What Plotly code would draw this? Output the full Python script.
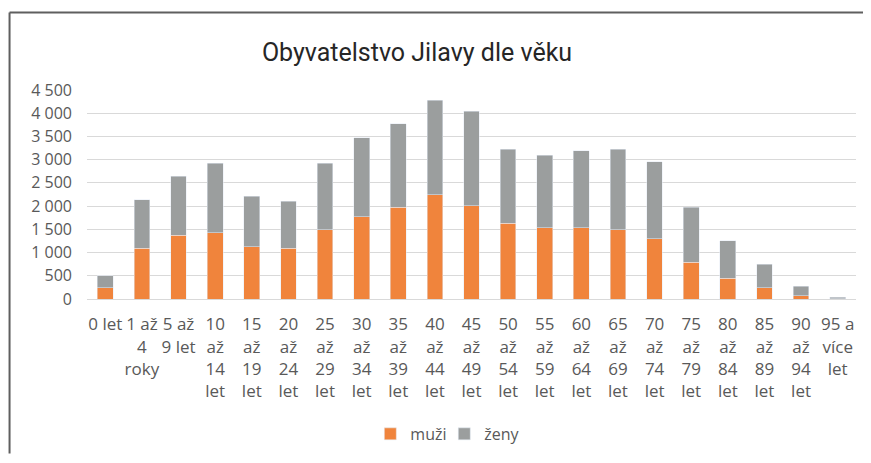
import plotly.graph_objects as go

categories = ["0 let", "1 až<br>4<br>roky", "5 až<br>9 let", "10<br>až<br>14<br>let", "15<br>až<br>19<br>let",
              "20<br>až<br>24<br>let", "25<br>až<br>29<br>let", "30<br>až<br>34<br>let", "35<br>až<br>39<br>let",
              "40<br>až<br>44<br>let", "45<br>až<br>49<br>let", "50<br>až<br>54<br>let", "55<br>až<br>59<br>let",
              "60<br>až<br>64<br>let", "65<br>až<br>69<br>let", "70<br>až<br>74<br>let", "75<br>až<br>79<br>let",
              "80<br>až<br>84<br>let", "85<br>až<br>89<br>let", "90<br>až<br>94<br>let", "95 a<br>více<br>let"]
muzi = [245, 1090, 1370, 1430, 1130, 1090, 1495, 1775, 1980, 2250, 2005, 1630, 1530, 1530, 1495, 1300, 790, 445, 240, 70, 8]
total = [505, 2140, 2645, 2920, 2210, 2105, 2920, 3475, 3770, 4280, 4040, 3225, 3090, 3195, 3225, 2955, 1975, 1255, 745, 270, 35]
zeny = [t - m for t, m in zip(total, muzi)]

ytickvals = [0, 500, 1000, 1500, 2000, 2500, 3000, 3500, 4000, 4500]
yticktext = ["0", "500", "1 000", "1 500", "2 000", "2 500", "3 000", "3 500", "4 000", "4 500"]

fig = go.Figure()
fig.add_trace(go.Bar(x=list(range(len(categories))), y=muzi, name="muži",
                     marker=dict(color="#F0843C"), legend="legend"))
fig.add_trace(go.Bar(x=list(range(len(categories))), y=zeny, name="ženy",
                     marker=dict(color="#9B9E9E"), legend="legend2"))

# page body has an 8px margin: figure starts at window (8, 8)
O = 8
W, H = 871 - O, 463 - O
L, R = 86.5 - O, 871 - 856
T = 90 - O
B = 463 - 304.5
pw, ph = W - L - R, H - T - B

def px(x):  # window pixel -> paper x
    return (x - O - L) / pw

def py(y):  # window pixel -> paper y
    return (H - B - (y - O)) / ph

fig.update_layout(
    width=W, height=H,
    barmode="stack", bargap=0.57,
    margin=dict(l=L, r=R, t=T, b=B),
    paper_bgcolor="white", plot_bgcolor="white",
    font=dict(family="Open Sans", size=16, color="#595959"),
    title=dict(text="Obyvatelstvo Jilavy dle věku", xref="container", x=(417 - O) / W, xanchor="center",
               yref="container", y=1 - (52 - O) / H, yanchor="middle",
               font=dict(family="Roboto", size=25, color="#262626")),
    showlegend=True,
    legend=dict(orientation="h", x=px(370), xanchor="left", y=py(443), yanchor="middle",
                font=dict(size=16, color="#595959"), itemwidth=30, borderwidth=0,
                bgcolor="rgba(0,0,0,0)"),
    legend2=dict(orientation="h", x=px(444), xanchor="left", y=py(443), yanchor="middle",
                 font=dict(size=16, color="#595959"), itemwidth=30, borderwidth=0,
                 bgcolor="rgba(0,0,0,0)"),
    xaxis=dict(tickmode="array", tickvals=list(range(len(categories))), ticktext=categories,
               range=[-0.5, len(categories) - 0.5], showgrid=False, showline=True,
               linecolor="#d9d9d9", linewidth=1, ticks="", tickangle=0,
               ticklabelstandoff=10, tickfont=dict(size=17, color="#595959")),
    yaxis=dict(range=[0, 4500], tickmode="array", tickvals=ytickvals, ticktext=yticktext,
               showgrid=True, gridcolor="#d9d9d9", gridwidth=1, zeroline=False,
               ticks="", ticklabelstandoff=14, tickfont=dict(size=16, color="#595959")),
    shapes=[
        dict(type="line", xref="paper", yref="paper", x0=px(O + 1), x1=px(871), y0=py(10.5), y1=py(10.5),
             line=dict(color="#5f5f5f", width=2), layer="above"),
        dict(type="line", xref="paper", yref="paper", x0=px(O + 1), x1=px(O + 1), y0=py(10.5), y1=py(H + O),
             line=dict(color="#5f5f5f", width=2), layer="above"),
    ],
)

fig.write_html("out.html")
